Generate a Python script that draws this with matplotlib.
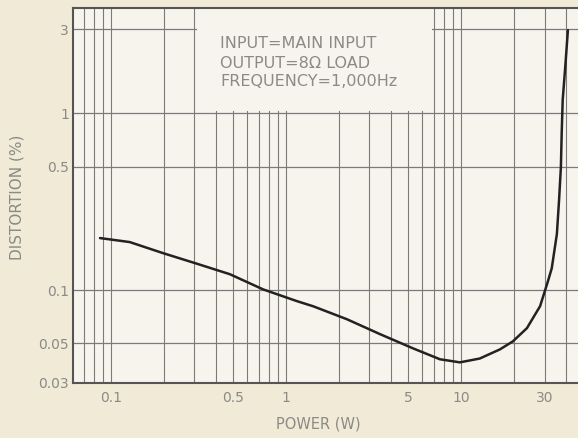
import matplotlib.pyplot as plt
import matplotlib.patches as patches
import numpy as np

# distortion curve
power_w = [0.0866, 0.128, 0.198, 0.310, 0.478, 0.739, 1.155, 1.43, 2.23, 3.45, 5.32, 7.58,
           9.85, 12.8, 16.7, 19.8, 23.8, 28.3, 31.4, 33.0, 35.3, 36.3, 37.2, 37.6, 38.1, 39.4, 40.8]
distortion = [0.197, 0.187, 0.162, 0.141, 0.123, 0.101, 0.0866, 0.081, 0.0684, 0.0563, 0.0468, 0.0406,
              0.039, 0.041, 0.0462, 0.0513, 0.0609, 0.0811, 0.1125, 0.133, 0.208, 0.32, 0.494, 0.768,
              1.19, 1.83, 2.96]

xticks = [0.1, 0.5, 1, 5, 10, 30]
xtick_labels = ["0.1", "0.5", "1", "5", "10", "30"]
yticks = [0.03, 0.05, 0.1, 0.5, 1, 3]
ytick_labels = ["0.03", "0.05", "0.1", "0.5", "1", "3"]
ygrid = [0.05, 0.1, 0.5, 1, 3]
xgrid = [0.07, 0.08, 0.09] + [m * 0.1 for m in range(1, 10)] + list(range(1, 10)) + [10, 20, 30, 40]

notes = ["INPUT=MAIN INPUT", "OUTPUT=8\u03a9 LOAD", "FREQUENCY=1,000Hz"]

txt = "#8a8a86"
fig = plt.figure(figsize=(5.78, 4.38), dpi=100, facecolor="#f0ead6")
ax = fig.add_axes([73 / 578, 55 / 438, 505 / 578, 375 / 438], facecolor="#f6f4ed")
ax.set_xscale("log")
ax.set_yscale("log")
ax.set_xlim(0.0607, 46.6)
ax.set_ylim(0.0298, 3.95)

for g in xgrid:
    ax.axvline(g, color="#7a7a7a", lw=0.8, zorder=1)
for g in ygrid:
    ax.axhline(g, color="#7a7a7a", lw=0.9, zorder=1)

# blank area behind the notes
box = patches.Rectangle((0.31, 1.03), 6.8 - 0.31, 3.95 - 1.03, facecolor="#f6f4ed",
                        edgecolor="none", zorder=2)
ax.add_patch(box)

ax.plot(power_w, distortion, color="#222222", lw=1.8, zorder=3,
        solid_joinstyle="round", solid_capstyle="round")

ax.set_xticks(xticks)
ax.set_xticklabels(xtick_labels)
ax.set_yticks(yticks)
ax.set_yticklabels(ytick_labels)
ax.minorticks_off()
ax.tick_params(length=0, colors=txt, labelsize=10)
ax.tick_params(axis="x", pad=6)
ax.tick_params(axis="y", pad=3)

for s in ["left", "bottom", "top"]:
    ax.spines[s].set_color("#555555")
    ax.spines[s].set_linewidth(1.5)
ax.spines["right"].set_visible(False)

for i, t in enumerate(notes):
    fig.text(220 / 578, 1 - (44 + 19 * i) / 438, t, color=txt, fontsize=11.5,
             va="center", ha="left")

fig.text(318 / 578, 1 - 424 / 438, "POWER (W)", color=txt, fontsize=10.5, ha="center", va="center")
fig.text(17 / 578, 1 - 197 / 438, "DISTORTION (%)", color=txt, fontsize=11, ha="center",
         va="center", rotation=90)

fig.savefig("out.png", dpi=100, facecolor=fig.get_facecolor())
